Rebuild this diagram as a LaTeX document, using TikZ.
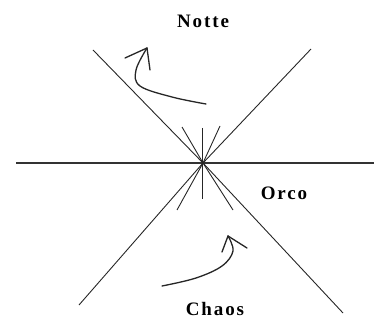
\documentclass[tikz,border=0pt]{standalone}
\usepackage{fontspec}
\setmainfont{Liberation Serif}
\newfontfamily\lblfont[LetterSpace=10]{Liberation Serif}
\begin{document}
\begin{tikzpicture}[x=1pt,y=-1pt,
  thinline/.style={draw=black!85, line width=0.9pt},
  axisline/.style={draw=black!80, line width=1.4pt},
  sketch/.style={draw=black!85, line width=1.3pt, line cap=round, line join=round},
  lbl/.style={font=\lblfont\fontsize{19}{21}\selectfont\bfseries, inner sep=0pt}]
\useasboundingbox (0,0) rectangle (374,320);
\coordinate (c) at (203,163);
\coordinate (hl) at (16,163);
\coordinate (hr) at (374,163);
\coordinate (tl) at (93,50);
\coordinate (br) at (343,313);
\coordinate (tr) at (311,49);
\coordinate (bl) at (79,305);
% main lines
\draw[axisline] (hl) -- (hr);
\draw[thinline] (tl) -- (c) -- (br);
\draw[thinline] (tr) -- (c) -- (bl);
% short rays
\coordinate (r1) at (182,127);
\coordinate (r2) at (220,126);
\coordinate (r3) at (202,128);
\coordinate (r4) at (202,199);
\coordinate (r5) at (177,210);
\coordinate (r6) at (233,210);
\draw[thinline] (r1) -- (c);
\draw[thinline] (r2) -- (c);
\draw[thinline] (r3) -- (r4);
\draw[thinline] (c) -- (r5);
\draw[thinline] (c) -- (r6);
% upper arrow
\coordinate (ua) at (147,48);
\draw[sketch] plot[smooth, tension=0.6] coordinates {(206,104) (172,97) (140,86) (136,70) (ua)};
\draw[sketch] (ua) -- (125,58);
\draw[sketch] (ua) -- (150,70);
% lower arrow
\coordinate (la) at (228,236);
\draw[sketch] plot[smooth, tension=0.6] coordinates {(162,286) (196,278) (222,266) (233,251) (la)};
\draw[sketch] (la) -- (222,252);
\draw[sketch] (la) -- (247,248);
% labels
\node[lbl] (notte) at (203,21) {Notte};
\node[lbl] (orco) at (284,193) {Orco};
\node[lbl] (chaos) at (215,309) {Chaos};
\end{tikzpicture}
\end{document}
